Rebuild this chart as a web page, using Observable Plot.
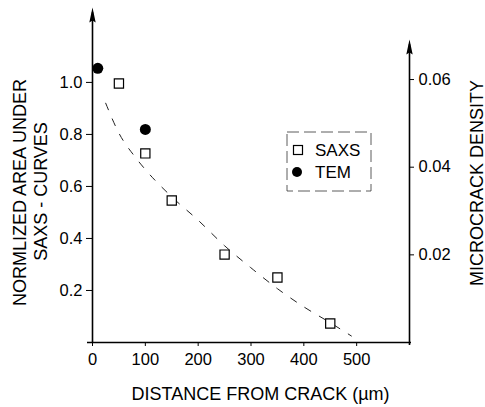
<!DOCTYPE html>
<html>
<head>
<meta charset="utf-8">
<script src="https://cdn.jsdelivr.net/npm/d3@7"></script>
<script src="https://cdn.jsdelivr.net/npm/@observablehq/plot@0.6"></script>
<style>
  html, body { margin: 0; padding: 0; background: #fff; }
  #chart { width: 485px; height: 407px; }
</style>
</head>
<body>
<div id="chart"></div>
<script>
// ---- data ----
const saxsX = [50, 100, 150, 250, 350, 450];
const saxsY = [0.996, 0.727, 0.546, 0.338, 0.25, 0.073];
const temX = [10, 100];
const temY = [1.054, 0.819];
const curveX = [25, 50, 80, 100, 150, 200, 250, 300, 350, 400, 450, 490];
const curveY = [0.92, 0.805, 0.715, 0.665, 0.56, 0.47, 0.372, 0.287, 0.207, 0.137, 0.076, 0.025];
const xTicks = [0, 100, 200, 300, 400, 500];
const yTicks = [0.2, 0.4, 0.6, 0.8, 1.0];
const densityTicks = [0.02, 0.04, 0.06];
const densityLabels = ["0.02", "0.04", "0.06"];
const legendLabels = ["SAXS", "TEM"];
const xLabel = "DISTANCE FROM CRACK (\u00b5m)";
const yLabelLines = ["NORMLIZED AREA UNDER", "SAXS - CURVES"];
const y2Label = "MICROCRACK DENSITY";

// ---- derived tables ----
const K = 16.85; // density -> left-axis units
const xMax = 600, yTop = 1.288, y2Top = 1.165;
const saxs = saxsX.map((x, i) => ({x, y: saxsY[i]}));
const tem = temX.map((x, i) => ({x, y: temY[i]}));
const curve = curveX.map((x, i) => ({x, y: curveY[i]}));
const densityPos = densityTicks.map(d => d * K);

const arrowUp = {
  draw(ctx) {
    ctx.moveTo(0, 0);
    ctx.lineTo(3.2, 15);
    ctx.lineTo(0, 13);
    ctx.lineTo(-3.2, 15);
    ctx.closePath();
  }
};

const font = "'Liberation Sans', Arial, Helvetica, sans-serif";

const chart = Plot.plot({
  width: 485,
  height: 407,
  marginTop: 7,
  marginBottom: 65,
  marginLeft: 92,
  marginRight: 76,
  style: {fontFamily: font, fontSize: "16.5px", color: "#000", background: "#fff"},
  x: {domain: [0, xMax]},
  y: {domain: [0, yTop]},
  marks: [
    // axis lines
    Plot.ruleY([0], {stroke: "#000", strokeWidth: 1.5, insetLeft: -5, insetRight: -2}),
    Plot.ruleX([0], {y1: 0, y2: yTop - 0.02, stroke: "#000", strokeWidth: 1.6}),
    Plot.ruleX([xMax], {y1: -0.012, y2: y2Top - 0.02, stroke: "#000", strokeWidth: 1.6}),
    Plot.dot([{x: 0, y: yTop}], {x: "x", y: "y", symbol: arrowUp, fill: "#000", stroke: "none"}),
    Plot.dot([{x: xMax, y: y2Top}], {x: "x", y: "y", symbol: arrowUp, fill: "#000", stroke: "none"}),
    // ticks and labels
    Plot.axisX({ticks: xTicks, tickSize: 4, tickPadding: 7, label: null, tickFormat: d => String(d)}),
    Plot.axisY({ticks: yTicks, tickFormat: ".1f", tickSize: 6, tickPadding: 4, label: null}),
    Plot.axisY(densityPos, {anchor: "right", tickSize: 4, tickPadding: 5, label: null,
      tickFormat: (d, i) => densityLabels[i]}),
    // data
    Plot.line(curve, {x: "x", y: "y", curve: "monotone-x", stroke: "#222", strokeWidth: 1, strokeDasharray: "7,10"}),
    Plot.dot(saxs, {x: "x", y: "y", symbol: "square", r: 5.2, stroke: "#000", strokeWidth: 1.2, fill: "#fff"}),
    Plot.dot(tem, {x: "x", y: "y", symbol: "circle", r: 5.5, fill: "#000", stroke: "none"})
  ]
});

document.getElementById("chart").appendChild(chart);

const svg = d3.select(chart);

// ---- axis titles ----
const titles = svg.append("g").attr("font-family", font).attr("font-size", 18)
  .attr("fill", "#000").attr("text-anchor", "middle");
titles.append("text").attr("x", 260.5).attr("y", 400).text(xLabel);
titles.append("text").attr("transform", "translate(26,192.5) rotate(-90)").text(yLabelLines[0]);
titles.append("text").attr("transform", "translate(47,191.5) rotate(-90)").text(yLabelLines[1]);
titles.append("text").attr("transform", "translate(482.5,183) rotate(-90)").text(y2Label);

// ---- legend box inside the plot ----
const lg = svg.append("g").attr("font-family", font).attr("font-size", 17).attr("text-anchor", "start");
lg.append("rect").attr("x", 287).attr("y", 132).attr("width", 84).attr("height", 59)
  .attr("fill", "none").attr("stroke", "#333").attr("stroke-width", 0.8).attr("stroke-dasharray", "12,5");
lg.append("rect").attr("x", 293.5).attr("y", 145.5).attr("width", 9).attr("height", 9)
  .attr("fill", "#fff").attr("stroke", "#000").attr("stroke-width", 1.2);
lg.append("circle").attr("cx", 297).attr("cy", 172).attr("r", 5).attr("fill", "#000");
lg.append("text").attr("x", 315).attr("y", 156).attr("fill", "#000").text(legendLabels[0]);
lg.append("text").attr("x", 315).attr("y", 178).attr("fill", "#000").text(legendLabels[1]);
</script>
</body>
</html>
